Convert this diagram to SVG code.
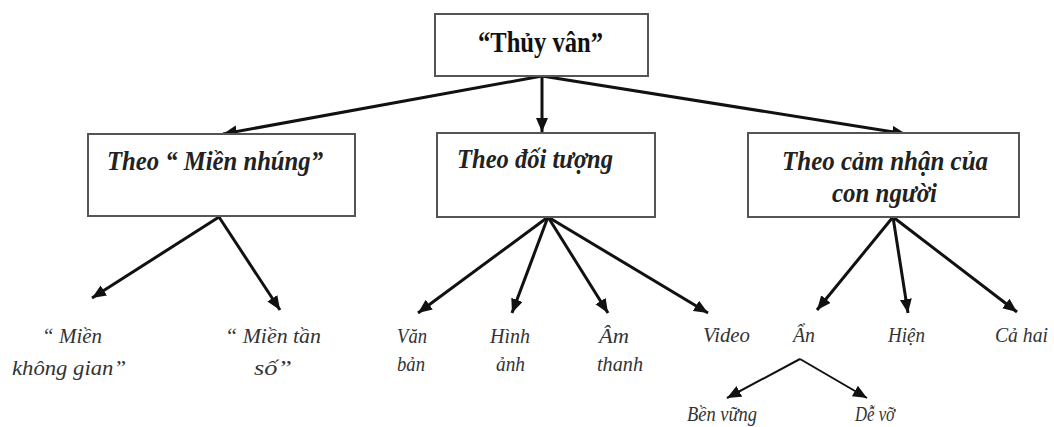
<svg xmlns="http://www.w3.org/2000/svg" width="1054" height="427" viewBox="0 0 1054 427">
  <defs>
    <marker id="arrow" markerUnits="userSpaceOnUse" markerWidth="15" markerHeight="13" refX="14" refY="6" orient="auto">
      <path d="M0,0 L14,6 L0,12 z" fill="#111"/>
    </marker>
    <style>
      .box { fill: #fff; stroke: #555; stroke-width: 2; }
      .edge { stroke: #111; stroke-width: 3; fill: none; marker-end: url(#arrow); }
      .thin { stroke-width: 2; }
      .title { font-weight: bold; font-size: 29px; fill: #111; }
      .cat { font-weight: bold; font-style: italic; font-size: 28px; fill: #222; }
      .leaf { font-style: italic; font-size: 21px; fill: #333; }
    </style>
  </defs>
  <rect width="1054" height="427" fill="#fff"/>

  <!-- connectors -->
  <g id="connectors">
    <line class="edge" x1="542" y1="76" x2="223" y2="134"/>
    <line class="edge" x1="542" y1="76" x2="542" y2="132"/>
    <line class="edge" x1="542" y1="76" x2="906" y2="134"/>

    <line class="edge" x1="219" y1="217" x2="92" y2="298"/>
    <line class="edge" x1="219" y1="217" x2="280" y2="310"/>

    <line class="edge" x1="548" y1="217" x2="418" y2="313"/>
    <line class="edge" x1="548" y1="217" x2="512" y2="313"/>
    <line class="edge" x1="548" y1="217" x2="608" y2="313"/>
    <line class="edge" x1="548" y1="217" x2="708" y2="313"/>

    <line class="edge" x1="893" y1="217" x2="817" y2="310"/>
    <line class="edge" x1="893" y1="217" x2="908" y2="313"/>
    <line class="edge" x1="893" y1="217" x2="1017" y2="312"/>

    <line class="edge thin" x1="800" y1="359" x2="727" y2="398"/>
    <line class="edge thin" x1="800" y1="359" x2="867" y2="398"/>
  </g>

  <!-- narrow set type: each label is fitted to its measured width -->
  <g id="nodes" font-family="Liberation Serif, serif">
    <!-- root -->
    <g id="node-thuy-van">
      <rect class="box" x="435" y="14" width="213" height="62"/>
      <text class="title" x="478" y="52" textLength="125" lengthAdjust="spacingAndGlyphs">“Thủy vân”</text>
    </g>

    <!-- categories -->
    <g id="node-mien-nhung">
      <rect class="box" x="88" y="134" width="267" height="82"/>
      <text class="cat" x="107" y="170" textLength="216" lengthAdjust="spacingAndGlyphs">Theo “ Miền nhúng”</text>
    </g>
    <g id="node-doi-tuong">
      <rect class="box" x="437" y="133" width="218" height="84"/>
      <text class="cat" x="457" y="168" textLength="156" lengthAdjust="spacingAndGlyphs">Theo đối tượng</text>
    </g>
    <g id="node-cam-nhan">
      <rect class="box" x="748" y="133" width="271" height="84"/>
      <text class="cat" x="782" y="170" textLength="206" lengthAdjust="spacingAndGlyphs">Theo cảm nhận của</text>
      <text class="cat" x="832" y="202" textLength="105" lengthAdjust="spacingAndGlyphs">con người</text>
    </g>

    <!-- leaves -->
    <g id="node-mien-khong-gian">
      <text class="leaf" x="42" y="343" textLength="60" lengthAdjust="spacingAndGlyphs">“ Miền</text>
      <text class="leaf" x="12" y="375" textLength="114" lengthAdjust="spacingAndGlyphs">không gian”</text>
    </g>
    <g id="node-mien-tan-so">
      <text class="leaf" x="225" y="343" textLength="96" lengthAdjust="spacingAndGlyphs">“ Miền tần</text>
      <text class="leaf" x="254" y="375" textLength="38" lengthAdjust="spacingAndGlyphs">số”</text>
    </g>
    <g id="node-van-ban">
      <text class="leaf" x="397" y="343" textLength="30" lengthAdjust="spacingAndGlyphs">Văn</text>
      <text class="leaf" x="397" y="371" textLength="28" lengthAdjust="spacingAndGlyphs">bản</text>
    </g>
    <g id="node-hinh-anh">
      <text class="leaf" x="490" y="343" textLength="40" lengthAdjust="spacingAndGlyphs">Hình</text>
      <text class="leaf" x="496" y="371" textLength="29" lengthAdjust="spacingAndGlyphs">ảnh</text>
    </g>
    <g id="node-am-thanh">
      <text class="leaf" x="599" y="343" textLength="30" lengthAdjust="spacingAndGlyphs">Âm</text>
      <text class="leaf" x="597" y="371" textLength="46" lengthAdjust="spacingAndGlyphs">thanh</text>
    </g>
    <g id="node-video">
      <text class="leaf" x="703" y="342" textLength="47" lengthAdjust="spacingAndGlyphs">Video</text>
    </g>
    <g id="node-an">
      <text class="leaf" x="793" y="342" textLength="22" lengthAdjust="spacingAndGlyphs">Ẩn</text>
    </g>
    <g id="node-hien">
      <text class="leaf" x="888" y="342" textLength="37" lengthAdjust="spacingAndGlyphs">Hiện</text>
    </g>
    <g id="node-ca-hai">
      <text class="leaf" x="995" y="342" textLength="53" lengthAdjust="spacingAndGlyphs">Cả hai</text>
    </g>
    <g id="node-ben-vung">
      <text class="leaf" x="687" y="421" textLength="70" lengthAdjust="spacingAndGlyphs">Bền vững</text>
    </g>
    <g id="node-de-vo">
      <text class="leaf" x="855" y="421" textLength="40" lengthAdjust="spacingAndGlyphs">Dễ vỡ</text>
    </g>
  </g>
</svg>
